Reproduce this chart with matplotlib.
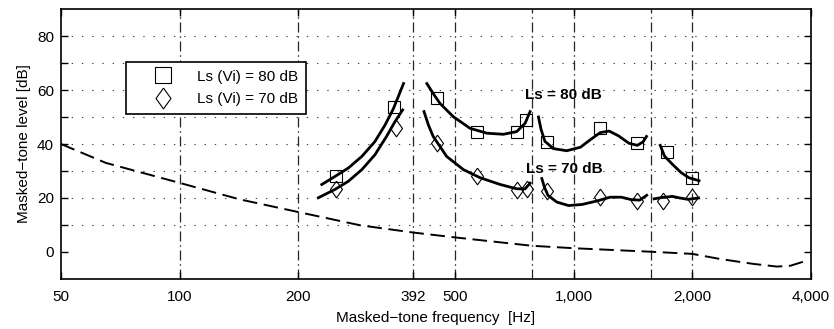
import numpy as np
import matplotlib.pyplot as plt
from matplotlib.ticker import FixedLocator, NullLocator, FixedFormatter

plt.rcParams['font.family'] = ['Liberation Sans', 'DejaVu Sans']
plt.rcParams['font.size'] = 11

# threshold in quiet (dashed)
thr_f = [50, 65, 100, 142, 200, 287, 392, 500, 784, 1000, 1568, 2000, 2354, 2854, 3280, 3545, 3900]
thr_db = [40, 33, 25.6, 19.5, 14.8, 9.9, 7.2, 5.4, 2.3, 1.4, 0.1, -0.7, -2.6, -4.4, -5.4, -5.1, -3.2]

# fitted curves, Ls = 80 dB
c80_f = [
    [229.5, 248, 268, 290, 313, 332, 349, 370],
    [424, 440, 458, 495, 546, 602, 663, 717, 753, 775],
    [814, 826, 845, 888, 960, 1040, 1100, 1167, 1230, 1300, 1380, 1450, 1500, 1530],
    [1658, 1700, 1780, 1870, 1960, 2080],
]
c80_db = [
    [25, 28, 31.1, 35.4, 40.9, 47, 53.2, 62.4],
    [62.4, 58.7, 55, 50.1, 45.8, 44, 43.6, 44.6, 47.7, 52],
    [50, 45.5, 41, 38.3, 37.5, 38.8, 41.5, 44.2, 44.8, 43, 40.3, 39.5, 40.8, 42.8],
    [39.5, 35.5, 32.5, 29.5, 27.5, 26.4],
]

# fitted curves, Ls = 70 dB
c70_f = [
    [225, 248, 268, 290, 313, 335, 352, 368],
    [417, 428, 440, 476, 525, 579, 651, 717, 753, 775],
    [830, 843, 860, 906, 970, 1050, 1145, 1237, 1320, 1400, 1470, 1532],
    [1600, 1680, 1780, 1860, 1950, 2075],
]
c70_db = [
    [20.1, 23.2, 26.2, 30.5, 36, 42.8, 48.3, 52.6],
    [52, 47, 42.8, 35.4, 30.5, 27.5, 25, 23.4, 23.4, 25.5],
    [27.2, 24, 21, 18.5, 17.2, 17.6, 18.9, 20.3, 20.3, 19.4, 19.2, 21],
    [19.7, 20.2, 20.6, 20.0, 19.5, 20.0],
]

# measured points
sq_f = [250, 350, 449, 568, 717, 757, 855, 1167, 1446, 1723, 1995]
sq_db = [28, 53.8, 56.9, 44.6, 44.6, 48.9, 40.9, 45.8, 40.3, 37.2, 27.5]
di_f = [250, 354, 449, 568, 717, 760, 855, 1167, 1446, 1689, 1995]
di_db = [23.2, 45.8, 40.3, 28, 23, 23.5, 22.5, 20.2, 18.9, 18.9, 20.4]

vlines = [100, 200, 392, 500, 784, 1000, 1568, 2000]
xticks = [50, 100, 200, 392, 500, 1000, 2000, 4000]
xlabels = ['50', '100', '200', '392', '500', '1,000', '2,000', '4,000']
yticks = [0, 10, 20, 30, 40, 50, 60, 70, 80]
ylabels = ['0', '', '20', '', '40', '', '60', '', '80']

diamond = [(0, 1), (0.72, 0), (0, -1), (-0.72, 0), (0, 1)]

fig = plt.figure(figsize=(8.34, 3.29), dpi=100)
ax = fig.add_axes([0.0731, 0.152, 0.8993, 0.8206])
ax.set_xscale('log')
ax.set_xlim(50, 4000)
ax.set_ylim(-10, 90)

for y in range(10, 90, 10):
    ax.axhline(y, color='0.25', lw=0.8, linestyle=(0, (1.2, 8)), zorder=1)
for v in vlines:
    ax.axvline(v, color='0.15', lw=0.9, linestyle=(0, (8, 3, 1.2, 3)), zorder=1)

ax.plot(thr_f, thr_db, color='black', lw=1.4, linestyle=(0, (7.5, 3.4)), zorder=2)

for f, d in zip(c80_f, c80_db):
    ax.plot(f, d, color='black', lw=2.0, zorder=3)
for f, d in zip(c70_f, c70_db):
    ax.plot(f, d, color='black', lw=2.0, zorder=3)

ax.plot(sq_f, sq_db, linestyle='none', marker='s', ms=9, mfc='none', mec='black', mew=0.8,
        zorder=4, label='Ls (Vi) = 80 dB')
ax.plot(di_f, di_db, linestyle='none', marker=diamond, ms=12, mfc='none', mec='black', mew=0.8,
        zorder=4, label='Ls (Vi) = 70 dB')

ax.text(753, 58.3, 'Ls = 80 dB', fontweight='bold', va='center', ha='left', zorder=5)
ax.text(757, 30.8, 'Ls = 70 dB', fontweight='bold', va='center', ha='left', zorder=5)

ax.xaxis.set_major_locator(FixedLocator(xticks))
ax.xaxis.set_major_formatter(FixedFormatter(xlabels))
ax.xaxis.set_minor_locator(NullLocator())
ax.yaxis.set_major_locator(FixedLocator(yticks))
ax.yaxis.set_major_formatter(FixedFormatter(ylabels))
ax.tick_params(axis='both', direction='in', length=5, width=1, top=True, right=True)
ax.tick_params(axis='x', pad=8)
ax.tick_params(axis='y', pad=5)
for s in ax.spines.values():
    s.set_linewidth(1.2)

ax.set_xlabel('Masked\u2212tone frequency  [Hz]', labelpad=5)
ax.set_ylabel('Masked\u2212tone level [dB]', labelpad=4)

leg = ax.legend(loc='upper left', bbox_to_anchor=(0.0867, 0.8037), frameon=True, fancybox=False,
                edgecolor='black', framealpha=1, handletextpad=0.35, borderpad=0.5,
                handlelength=3.8, labelspacing=0.55, borderaxespad=0, markerscale=1.25)
leg.get_frame().set_linewidth(1.2)

fig.savefig('out.png', dpi=100)
